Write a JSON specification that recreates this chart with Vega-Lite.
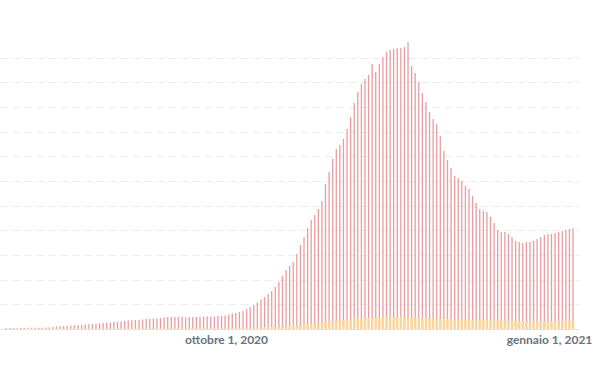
{
  "$schema": "https://vega.github.io/schema/vega-lite/v6.json",
  "width": 579,
  "height": 296,
  "autosize": {"type": "none"},
  "padding": {"left": 0, "top": 33, "right": 28, "bottom": 40},
  "background": "white",
  "config": {
    "view": {"stroke": null},
    "axisY": {
      "title": null,
      "grid": true,
      "gridColor": "#ececec",
      "gridOpacity": 1,
      "gridDash": [8, 4],
      "labels": false,
      "ticks": false,
      "domain": false
    }
  },
  "data": {
    "values": [
      {"date": "2020-07-27", "r": 203, "o": 60},
      {"date": "2020-07-28", "r": 203, "o": 60},
      {"date": "2020-07-29", "r": 203, "o": 60},
      {"date": "2020-07-30", "r": 203, "o": 60},
      {"date": "2020-07-31", "r": 203, "o": 60},
      {"date": "2020-08-01", "r": 203, "o": 60},
      {"date": "2020-08-02", "r": 243, "o": 60},
      {"date": "2020-08-03", "r": 243, "o": 60},
      {"date": "2020-08-04", "r": 243, "o": 60},
      {"date": "2020-08-05", "r": 264, "o": 60},
      {"date": "2020-08-06", "r": 264, "o": 60},
      {"date": "2020-08-07", "r": 304, "o": 60},
      {"date": "2020-08-08", "r": 304, "o": 60},
      {"date": "2020-08-09", "r": 405, "o": 70},
      {"date": "2020-08-10", "r": 507, "o": 70},
      {"date": "2020-08-11", "r": 608, "o": 70},
      {"date": "2020-08-12", "r": 608, "o": 70},
      {"date": "2020-08-13", "r": 649, "o": 70},
      {"date": "2020-08-14", "r": 709, "o": 70},
      {"date": "2020-08-15", "r": 770, "o": 70},
      {"date": "2020-08-16", "r": 811, "o": 70},
      {"date": "2020-08-17", "r": 851, "o": 70},
      {"date": "2020-08-18", "r": 912, "o": 80},
      {"date": "2020-08-19", "r": 973, "o": 80},
      {"date": "2020-08-20", "r": 1014, "o": 80},
      {"date": "2020-08-21", "r": 1074, "o": 80},
      {"date": "2020-08-22", "r": 1115, "o": 80},
      {"date": "2020-08-23", "r": 1216, "o": 80},
      {"date": "2020-08-24", "r": 1257, "o": 80},
      {"date": "2020-08-25", "r": 1318, "o": 80},
      {"date": "2020-08-26", "r": 1419, "o": 90},
      {"date": "2020-08-27", "r": 1419, "o": 90},
      {"date": "2020-08-28", "r": 1520, "o": 90},
      {"date": "2020-08-29", "r": 1622, "o": 90},
      {"date": "2020-08-30", "r": 1723, "o": 90},
      {"date": "2020-08-31", "r": 1784, "o": 90},
      {"date": "2020-09-01", "r": 1824, "o": 90},
      {"date": "2020-09-02", "r": 1865, "o": 100},
      {"date": "2020-09-03", "r": 1926, "o": 100},
      {"date": "2020-09-04", "r": 2027, "o": 100},
      {"date": "2020-09-05", "r": 2088, "o": 100},
      {"date": "2020-09-06", "r": 2128, "o": 100},
      {"date": "2020-09-07", "r": 2128, "o": 100},
      {"date": "2020-09-08", "r": 2230, "o": 100},
      {"date": "2020-09-09", "r": 2331, "o": 110},
      {"date": "2020-09-10", "r": 2432, "o": 110},
      {"date": "2020-09-11", "r": 2432, "o": 110},
      {"date": "2020-09-12", "r": 2432, "o": 110},
      {"date": "2020-09-13", "r": 2432, "o": 110},
      {"date": "2020-09-14", "r": 2432, "o": 110},
      {"date": "2020-09-15", "r": 2392, "o": 110},
      {"date": "2020-09-16", "r": 2432, "o": 120},
      {"date": "2020-09-17", "r": 2432, "o": 120},
      {"date": "2020-09-18", "r": 2432, "o": 120},
      {"date": "2020-09-19", "r": 2432, "o": 120},
      {"date": "2020-09-20", "r": 2473, "o": 120},
      {"date": "2020-09-21", "r": 2534, "o": 130},
      {"date": "2020-09-22", "r": 2534, "o": 130},
      {"date": "2020-09-23", "r": 2534, "o": 130},
      {"date": "2020-09-24", "r": 2635, "o": 140},
      {"date": "2020-09-25", "r": 2635, "o": 140},
      {"date": "2020-09-26", "r": 2736, "o": 150},
      {"date": "2020-09-27", "r": 2939, "o": 150},
      {"date": "2020-09-28", "r": 3142, "o": 162},
      {"date": "2020-09-29", "r": 3243, "o": 203},
      {"date": "2020-09-30", "r": 3446, "o": 203},
      {"date": "2020-10-01", "r": 3649, "o": 223},
      {"date": "2020-10-02", "r": 4054, "o": 243},
      {"date": "2020-10-03", "r": 4459, "o": 264},
      {"date": "2020-10-04", "r": 4865, "o": 284},
      {"date": "2020-10-05", "r": 5372, "o": 304},
      {"date": "2020-10-06", "r": 5980, "o": 324},
      {"date": "2020-10-07", "r": 6486, "o": 365},
      {"date": "2020-10-08", "r": 7095, "o": 405},
      {"date": "2020-10-09", "r": 7703, "o": 426},
      {"date": "2020-10-10", "r": 8513, "o": 466},
      {"date": "2020-10-11", "r": 9527, "o": 507},
      {"date": "2020-10-12", "r": 10743, "o": 547},
      {"date": "2020-10-13", "r": 11959, "o": 588},
      {"date": "2020-10-14", "r": 12770, "o": 608},
      {"date": "2020-10-15", "r": 13581, "o": 689},
      {"date": "2020-10-16", "r": 15203, "o": 770},
      {"date": "2020-10-17", "r": 17027, "o": 831},
      {"date": "2020-10-18", "r": 18648, "o": 892},
      {"date": "2020-10-19", "r": 20473, "o": 973},
      {"date": "2020-10-20", "r": 22094, "o": 1054},
      {"date": "2020-10-21", "r": 23108, "o": 1115},
      {"date": "2020-10-22", "r": 24324, "o": 1176},
      {"date": "2020-10-23", "r": 25946, "o": 1257},
      {"date": "2020-10-24", "r": 29392, "o": 1358},
      {"date": "2020-10-25", "r": 31824, "o": 1520},
      {"date": "2020-10-26", "r": 34459, "o": 1581},
      {"date": "2020-10-27", "r": 36486, "o": 1662},
      {"date": "2020-10-28", "r": 37297, "o": 1723},
      {"date": "2020-10-29", "r": 38513, "o": 1824},
      {"date": "2020-10-30", "r": 40540, "o": 1946},
      {"date": "2020-10-31", "r": 42972, "o": 2027},
      {"date": "2020-11-01", "r": 45810, "o": 2068},
      {"date": "2020-11-02", "r": 48040, "o": 2108},
      {"date": "2020-11-03", "r": 49662, "o": 2149},
      {"date": "2020-11-04", "r": 50675, "o": 2189},
      {"date": "2020-11-05", "r": 51486, "o": 2230},
      {"date": "2020-11-06", "r": 53716, "o": 2270},
      {"date": "2020-11-07", "r": 52094, "o": 2311},
      {"date": "2020-11-08", "r": 53716, "o": 2331},
      {"date": "2020-11-09", "r": 55134, "o": 2392},
      {"date": "2020-11-10", "r": 56148, "o": 2432},
      {"date": "2020-11-11", "r": 56553, "o": 2432},
      {"date": "2020-11-12", "r": 56756, "o": 2453},
      {"date": "2020-11-13", "r": 56959, "o": 2432},
      {"date": "2020-11-14", "r": 56959, "o": 2432},
      {"date": "2020-11-15", "r": 57161, "o": 2432},
      {"date": "2020-11-16", "r": 58175, "o": 2412},
      {"date": "2020-11-17", "r": 53310, "o": 2392},
      {"date": "2020-11-18", "r": 51891, "o": 2351},
      {"date": "2020-11-19", "r": 50067, "o": 2331},
      {"date": "2020-11-20", "r": 47837, "o": 2291},
      {"date": "2020-11-21", "r": 46013, "o": 2230},
      {"date": "2020-11-22", "r": 43986, "o": 2189},
      {"date": "2020-11-23", "r": 42567, "o": 2149},
      {"date": "2020-11-24", "r": 41554, "o": 2128},
      {"date": "2020-11-25", "r": 39121, "o": 2088},
      {"date": "2020-11-26", "r": 36081, "o": 2047},
      {"date": "2020-11-27", "r": 34256, "o": 2027},
      {"date": "2020-11-28", "r": 32635, "o": 1986},
      {"date": "2020-11-29", "r": 31013, "o": 1946},
      {"date": "2020-11-30", "r": 30608, "o": 1926},
      {"date": "2020-12-01", "r": 30000, "o": 1926},
      {"date": "2020-12-02", "r": 28986, "o": 1905},
      {"date": "2020-12-03", "r": 28378, "o": 1885},
      {"date": "2020-12-04", "r": 26959, "o": 1865},
      {"date": "2020-12-05", "r": 25540, "o": 1824},
      {"date": "2020-12-06", "r": 24324, "o": 1824},
      {"date": "2020-12-07", "r": 23919, "o": 1824},
      {"date": "2020-12-08", "r": 23716, "o": 1804},
      {"date": "2020-12-09", "r": 22702, "o": 1784},
      {"date": "2020-12-10", "r": 21486, "o": 1763},
      {"date": "2020-12-11", "r": 20067, "o": 1743},
      {"date": "2020-12-12", "r": 19662, "o": 1723},
      {"date": "2020-12-13", "r": 19662, "o": 1723},
      {"date": "2020-12-14", "r": 19257, "o": 1703},
      {"date": "2020-12-15", "r": 18648, "o": 1682},
      {"date": "2020-12-16", "r": 17838, "o": 1662},
      {"date": "2020-12-17", "r": 17635, "o": 1622},
      {"date": "2020-12-18", "r": 17432, "o": 1622},
      {"date": "2020-12-19", "r": 17635, "o": 1601},
      {"date": "2020-12-20", "r": 17635, "o": 1581},
      {"date": "2020-12-21", "r": 17838, "o": 1561},
      {"date": "2020-12-22", "r": 18243, "o": 1541},
      {"date": "2020-12-23", "r": 18648, "o": 1541},
      {"date": "2020-12-24", "r": 19054, "o": 1520},
      {"date": "2020-12-25", "r": 19257, "o": 1520},
      {"date": "2020-12-26", "r": 19257, "o": 1541},
      {"date": "2020-12-27", "r": 19459, "o": 1561},
      {"date": "2020-12-28", "r": 19662, "o": 1581},
      {"date": "2020-12-29", "r": 19865, "o": 1601},
      {"date": "2020-12-30", "r": 20067, "o": 1622},
      {"date": "2020-12-31", "r": 20270, "o": 1622},
      {"date": "2021-01-01", "r": 20473, "o": 1622}
    ]
  },
  "encoding": {
    "x": {
      "field": "date",
      "type": "temporal",
      "scale": {"type": "utc", "domain": [1595776896000, 1609482871233]},
      "axis": {
        "title": null,
        "values": [1601510400000, 1609459200000],
        "grid": false,
        "ticks": false,
        "domain": true,
        "domainColor": "#e2e2e2",
        "labelFont": "Lato",
        "labelFontWeight": "bold",
        "labelFontSize": 12,
        "labelColor": "#68737f",
        "labelPadding": 5,
        "labelOverlap": false,
        "labelBound": false,
        "labelExpr": "utcmonth(datum.value) == 9 ? 'ottobre 1, 2020' : 'gennaio 1, 2021'",
        "labelOffset": {"condition": {"test": "utcmonth(datum.value) == 0", "value": -24}, "value": -17}
      }
    }
  },
  "layer": [
    {
      "mark": {"type": "bar", "width": 1.3, "color": "#e89ca0"},
      "encoding": {
        "y": {
          "field": "r",
          "type": "quantitative",
          "scale": {"domain": [0, 60000], "nice": false},
          "axis": {"values": [5000, 10000, 15000, 20000, 25000, 30000, 35000, 40000, 45000, 50000, 55000]}
        }
      }
    },
    {
      "mark": {"type": "bar", "width": 2.4, "color": "#fdd39a"},
      "encoding": {
        "y": {
          "field": "o",
          "type": "quantitative",
          "axis": {"values": [5000, 10000, 15000, 20000, 25000, 30000, 35000, 40000, 45000, 50000, 55000]}
        }
      }
    }
  ]
}
